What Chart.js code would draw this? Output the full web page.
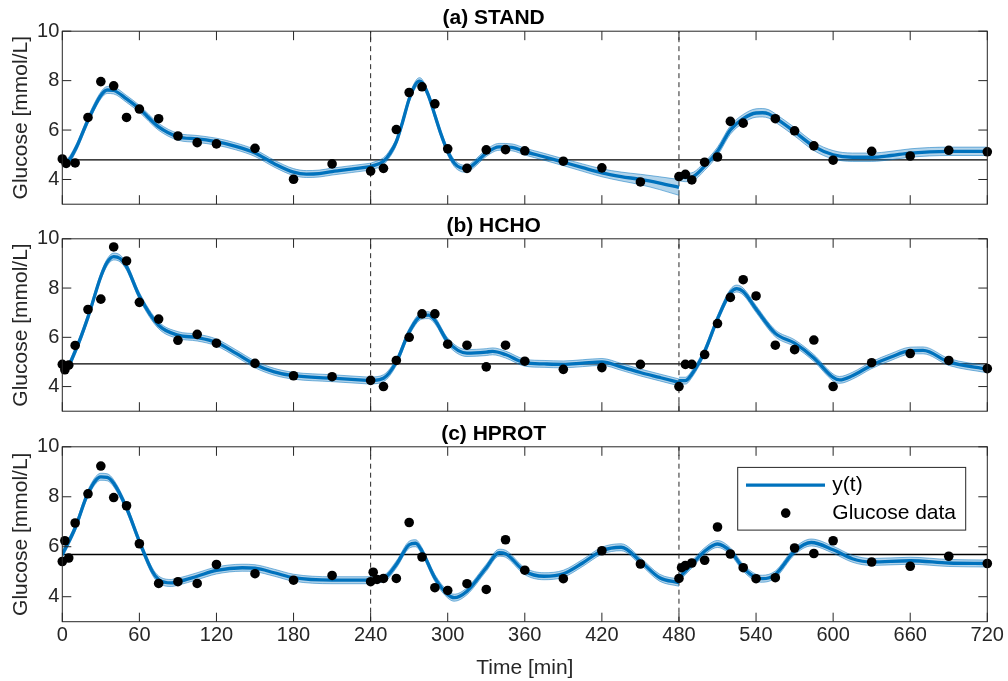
<!DOCTYPE html>
<html lang="en">
  <head>
    <title>Glucose fits</title>
    <meta charset="UTF-8" />
    <script src="https://cdn.jsdelivr.net/npm/chart.js"></script>
    <style>
      body { margin: 0; background: #fff; }
      #wrap { position: relative; width: 1008px; height: 681px; overflow: hidden; }
      canvas { position: absolute; left: 0; }
    </style>
  </head>
  <body>
    <div id="wrap">
      <canvas id="chartA" width="1008" height="209" style="top: 0px"></canvas>
      <canvas id="chartB" width="1008" height="207" style="top: 209px"></canvas>
      <canvas id="chartC" width="1008" height="265" style="top: 416px"></canvas>
    </div>

    <script>
      // axes
      const X_TICKS = [0, 60, 120, 180, 240, 300, 360, 420, 480, 540, 600, 660, 720];
      const Y_TICKS = [4, 6, 8, 10];
      const MEALS = [240, 480];

      // (a) STAND - measured glucose
      const tA = [0, 3, 10, 20, 30, 40, 50, 60, 75, 90, 105, 120, 150, 180, 210, 240, 250, 260, 270, 280, 290, 300, 315, 330, 345, 360, 390, 420, 450, 480, 485, 490, 500, 510, 520, 530, 555, 570, 585, 600, 630, 660, 690, 720];
      const gA = [4.83, 4.65, 4.67, 6.51, 7.96, 7.79, 6.51, 6.85, 6.46, 5.76, 5.49, 5.44, 5.26, 4.01, 4.63, 4.34, 4.45, 6.02, 7.52, 7.75, 7.06, 5.24, 4.45, 5.2, 5.21, 5.16, 4.74, 4.47, 3.9, 4.12, 4.21, 3.98, 4.7, 4.91, 6.35, 6.28, 6.46, 5.97, 5.36, 4.78, 5.14, 4.95, 5.18, 5.12];
      // (a) model fit y(t), a repeated time starts a new meal segment
      const fitTA = [0, 3, 10, 20, 30, 35, 40, 50, 60, 75, 90, 105, 120, 135, 150, 165, 180, 190, 200, 210, 225, 240,
        240, 250, 255, 260, 265, 270, 275, 278, 280, 285, 290, 295, 300, 305, 310, 315, 320, 330, 340, 350, 360, 375, 390, 405, 420, 435, 450, 465, 480,
        480, 485, 490, 500, 510, 520, 530, 540, 545, 550, 555, 570, 585, 600, 615, 630, 645, 660, 690, 720];
      const fitYA = [4.74, 4.7, 5.2, 6.4, 7.4, 7.62, 7.6, 7.26, 6.86, 6.13, 5.73, 5.64, 5.53, 5.34, 5.07, 4.64, 4.3, 4.22, 4.24, 4.32, 4.42, 4.52,
        4.52, 4.74, 5.05, 5.53, 6.35, 7.26, 7.85, 7.98, 7.92, 7.4, 6.6, 5.8, 5.13, 4.67, 4.47, 4.43, 4.6, 5.07, 5.32, 5.3, 5.13, 4.92, 4.7, 4.48, 4.27, 4.12, 4.0, 3.85, 3.68,
        4.12, 4.08, 4.1, 4.54, 5.14, 6.0, 6.46, 6.69, 6.7, 6.65, 6.49, 5.93, 5.34, 5.0, 4.9, 4.9, 4.97, 5.07, 5.14, 5.14];
      // half width of the shaded band
      const bandA = [0.14, 0.14, 0.14, 0.14, 0.14, 0.14, 0.14, 0.14, 0.14, 0.14, 0.14, 0.14, 0.14, 0.14, 0.14, 0.14, 0.14, 0.14, 0.14, 0.14, 0.14, 0.14,
        0.14, 0.14, 0.14, 0.14, 0.14, 0.14, 0.14, 0.14, 0.14, 0.14, 0.14, 0.14, 0.14, 0.14, 0.14, 0.14, 0.14, 0.14, 0.14, 0.14, 0.14, 0.14, 0.14, 0.15, 0.16, 0.18, 0.21, 0.26, 0.32,
        0.17, 0.17, 0.17, 0.17, 0.17, 0.17, 0.17, 0.17, 0.17, 0.17, 0.17, 0.17, 0.17, 0.17, 0.17, 0.17, 0.17, 0.17, 0.17, 0.17];
      const baseA = 4.79;

      // (b) HCHO
      const tB = [0, 2, 5, 10, 20, 30, 40, 50, 60, 75, 90, 105, 120, 150, 180, 210, 240, 250, 260, 270, 280, 290, 300, 315, 330, 345, 360, 390, 420, 450, 480, 485, 490, 500, 510, 520, 530, 540, 555, 570, 585, 600, 630, 660, 690, 720];
      const gB = [4.9, 4.68, 4.87, 5.67, 7.13, 7.55, 9.67, 9.1, 7.42, 6.74, 5.88, 6.12, 5.76, 4.94, 4.44, 4.4, 4.25, 4.0, 5.06, 6.0, 6.95, 6.95, 5.72, 5.68, 4.8, 5.68, 5.03, 4.7, 4.77, 4.9, 4.0, 4.9, 4.9, 5.3, 6.56, 7.62, 8.34, 7.68, 5.68, 5.5, 5.89, 4.0, 4.97, 5.34, 5.06, 4.73];
      const fitTB = [0, 3, 10, 20, 30, 35, 40, 45, 50, 60, 75, 90, 105, 120, 135, 150, 165, 180, 210, 240,
        240, 250, 260, 270, 280, 285, 290, 300, 315, 330, 335, 345, 360, 375, 390, 405, 420, 435, 450, 465, 480,
        480, 485, 490, 500, 510, 520, 525, 530, 540, 555, 570, 585, 600, 605, 615, 630, 645, 660, 670, 690, 720];
      const fitYB = [4.8, 4.78, 5.43, 6.82, 8.47, 9.05, 9.28, 9.2, 8.87, 7.68, 6.49, 6.09, 5.99, 5.79, 5.36, 4.9, 4.6, 4.44, 4.34, 4.24,
        4.24, 4.34, 5.0, 6.22, 6.88, 6.9, 6.69, 5.83, 5.36, 5.4, 5.43, 5.3, 4.97, 4.92, 4.9, 4.95, 5.0, 4.8, 4.57, 4.37, 4.17,
        4.24, 4.24, 4.5, 5.43, 6.75, 7.81, 7.98, 7.86, 7.15, 6.16, 5.76, 5.16, 4.37, 4.27, 4.44, 4.87, 5.2, 5.46, 5.47, 5.0, 4.7];
      const bandB = 0.14;
      const baseB = 4.92;

      // (c) HPROT
      const tC = [0, 2, 5, 10, 20, 30, 40, 50, 60, 75, 90, 105, 120, 150, 180, 210, 240, 242, 245, 250, 260, 270, 280, 290, 300, 315, 330, 345, 360, 390, 420, 450, 480, 482, 485, 490, 500, 510, 520, 530, 540, 555, 570, 585, 600, 630, 660, 690, 720];
      const gC = [5.41, 6.24, 5.55, 6.95, 8.12, 9.23, 7.97, 7.64, 6.12, 4.53, 4.6, 4.53, 5.29, 4.92, 4.66, 4.85, 4.6, 4.98, 4.69, 4.73, 4.73, 6.97, 5.59, 4.36, 4.25, 4.52, 4.29, 6.28, 5.06, 4.72, 5.84, 5.31, 4.73, 5.16, 5.25, 5.35, 5.46, 6.79, 5.71, 5.16, 4.72, 4.76, 5.95, 5.73, 6.24, 5.39, 5.22, 5.62, 5.33];
      const fitTC = [0, 10, 20, 30, 35, 40, 50, 60, 70, 75, 85, 90, 105, 120, 140, 150, 165, 180, 210, 240,
        240, 250, 260, 270, 275, 280, 290, 300, 305, 315, 330, 340, 345, 360, 375, 390, 405, 420, 435, 450, 465, 480,
        480, 485, 490, 500, 510, 520, 530, 540, 545, 555, 570, 583, 600, 615, 630, 660, 690, 720];
      const fitYC = [5.69, 6.75, 8.14, 8.8, 8.78, 8.54, 7.55, 6.21, 5.02, 4.69, 4.55, 4.6, 4.82, 5.05, 5.16, 5.14, 4.96, 4.76, 4.66, 4.66,
        4.69, 4.73, 5.29, 6.08, 6.14, 5.82, 4.75, 4.09, 3.96, 4.22, 5.16, 5.76, 5.72, 5.02, 4.82, 4.92, 5.35, 5.84, 5.98, 5.42, 4.76, 4.56,
        4.76, 5.02, 5.29, 5.82, 6.11, 5.82, 5.16, 4.76, 4.72, 4.89, 5.82, 6.17, 5.88, 5.52, 5.39, 5.44, 5.35, 5.33];
      const bandC = 0.14;
      const baseC = 5.69;

      const BLUE = '#0072BD';
      const AXIS = '#262626';
      const FONT = '"Liberation Sans", Arial, Helvetica, sans-serif';
      const TICK_LEN = 9;

      Chart.defaults.font.family = FONT;
      Chart.defaults.color = AXIS;

      // box round the plot with inward ticks on all four sides
      const boxTicks = {
        id: 'boxTicks',
        afterDatasetsDraw(chart) {
          const { ctx, chartArea: a } = chart;
          const x = chart.scales.x;
          const y = chart.scales.y;
          ctx.save();
          ctx.strokeStyle = AXIS;
          ctx.lineWidth = 1;
          ctx.strokeRect(a.left, a.top, a.right - a.left, a.bottom - a.top);
          ctx.beginPath();
          X_TICKS.forEach((v) => {
            const px = x.getPixelForValue(v);
            ctx.moveTo(px, a.bottom);
            ctx.lineTo(px, a.bottom - TICK_LEN);
            ctx.moveTo(px, a.top);
            ctx.lineTo(px, a.top + TICK_LEN);
          });
          Y_TICKS.forEach((v) => {
            const py = y.getPixelForValue(v);
            ctx.moveTo(a.left, py);
            ctx.lineTo(a.left + TICK_LEN, py);
            ctx.moveTo(a.right, py);
            ctx.lineTo(a.right - TICK_LEN, py);
          });
          ctx.stroke();
          ctx.restore();
        },
      };

      // legend box inside the last panel
      const legendBox = {
        id: 'legendBox',
        afterDraw(chart) {
          const { ctx, chartArea: a } = chart;
          const x0 = a.right - 249.6;
          const y0 = a.top + 20.6;
          ctx.save();
          ctx.fillStyle = '#fff';
          ctx.fillRect(x0, y0, 228, 62.7);
          ctx.strokeStyle = AXIS;
          ctx.lineWidth = 1;
          ctx.strokeRect(x0, y0, 228, 62.7);
          ctx.strokeStyle = BLUE;
          ctx.lineWidth = 3.3;
          ctx.beginPath();
          ctx.moveTo(x0 + 8.3, y0 + 17.7);
          ctx.lineTo(x0 + 87.3, y0 + 17.7);
          ctx.stroke();
          ctx.fillStyle = '#000';
          ctx.beginPath();
          ctx.arc(x0 + 48, y0 + 45.7, 4.8, 0, Math.PI * 2);
          ctx.fill();
          ctx.font = '21px ' + FONT;
          ctx.textAlign = 'left';
          ctx.textBaseline = 'middle';
          ctx.fillText('y(t)', x0 + 94.6, y0 + 17.7);
          ctx.fillText('Glucose data', x0 + 94.6, y0 + 45.7);
          ctx.restore();
        },
      };

      // split the fit where a time repeats (meal boundary)
      function segments(ts, ys, band) {
        const segs = [];
        let cur = [];
        ts.forEach((t, i) => {
          if (i > 0 && t === ts[i - 1]) {
            segs.push(cur);
            cur = [];
          }
          const w = Array.isArray(band) ? band[i] : band;
          cur.push({ x: t, y: ys[i], w: w });
        });
        segs.push(cur);
        return segs;
      }

      function makePanel(id, p) {
        const datasets = [];

        // meal markers and baseline
        MEALS.forEach((m) => {
          datasets.push({
            data: [{ x: m, y: 3 }, { x: m, y: 10 }],
            borderColor: AXIS,
            borderWidth: 1,
            borderDash: [5, 4],
            pointRadius: 0,
            order: 4,
          });
        });
        datasets.push({
          data: [{ x: 0, y: p.base }, { x: 720, y: p.base }],
          borderColor: '#000',
          borderWidth: 1.3,
          pointRadius: 0,
          order: 4,
        });

        segments(p.fitT, p.fitY, p.band).forEach((seg) => {
          datasets.push({
            data: seg.map((s) => ({ x: s.x, y: s.y + s.w })),
            borderColor: 'rgba(0, 114, 189, 0.5)',
            borderWidth: 1,
            pointRadius: 0,
            cubicInterpolationMode: 'monotone',
            fill: false,
            order: 3,
          });
          datasets.push({
            data: seg.map((s) => ({ x: s.x, y: s.y - s.w })),
            borderColor: 'rgba(0, 114, 189, 0.5)',
            backgroundColor: 'rgba(0, 114, 189, 0.3)',
            borderWidth: 1,
            pointRadius: 0,
            cubicInterpolationMode: 'monotone',
            fill: '-1',
            order: 3,
          });
          datasets.push({
            data: seg.map((s) => ({ x: s.x, y: s.y })),
            borderColor: BLUE,
            borderWidth: 3.3,
            pointRadius: 0,
            cubicInterpolationMode: 'monotone',
            fill: false,
            order: 1,
          });
        });

        // glucose measurements
        datasets.push({
          data: p.t.map((t, i) => ({ x: t, y: p.g[i] })),
          showLine: false,
          pointRadius: 4.8,
          pointBackgroundColor: '#000',
          pointBorderWidth: 0,
          clip: false,
          order: 0,
        });

        const plugins = [boxTicks];
        if (p.legend) plugins.push(legendBox);

        return new Chart(document.getElementById(id), {
          type: 'line',
          data: { datasets: datasets },
          plugins: plugins,
          options: {
            responsive: false,
            animation: false,
            events: [],
            layout: { padding: { left: 0, right: 20.7, top: 0, bottom: p.padBottom } },
            plugins: {
              legend: { display: false },
              tooltip: { enabled: false },
              title: {
                display: true,
                text: p.title,
                color: '#000',
                font: { size: 21, weight: 'bold' },
                padding: { top: p.titleTop, bottom: 0 },
              },
            },
            scales: {
              x: {
                type: 'linear',
                min: 0,
                max: 720,
                afterBuildTicks: (s) => {
                  s.ticks = X_TICKS.map((v) => ({ value: v }));
                },
                ticks: { display: p.xLabels, font: { size: 20 }, color: AXIS, padding: 2, maxRotation: 0, autoSkip: false },
                grid: { display: false, drawTicks: false },
                border: { display: false },
                title: {
                  display: p.xLabels,
                  text: 'Time [min]',
                  color: AXIS,
                  font: { size: 21 },
                  padding: { top: 0, bottom: 0 },
                },
                afterFit: (s) => {
                  s.height = p.xLabels ? 59.3 : 0;
                  s.paddingLeft = 0;
                  s.paddingRight = 0;
                },
              },
              y: {
                min: 3,
                max: 10,
                afterBuildTicks: (s) => {
                  s.ticks = Y_TICKS.map((v) => ({ value: v }));
                },
                ticks: { font: { size: 20 }, color: AXIS, padding: 3 },
                grid: { display: false, drawTicks: false },
                border: { display: false },
                title: {
                  display: true,
                  text: 'Glucose [mmol/L]',
                  color: AXIS,
                  font: { size: 21 },
                  padding: { top: 9, bottom: 0 },
                },
                afterFit: (s) => {
                  s.width = 62.3;
                  s.paddingTop = 0;
                  s.paddingBottom = 0;
                },
              },
            },
          },
        });
      }

      makePanel('chartA', {
        title: '(a) STAND', t: tA, g: gA, fitT: fitTA, fitY: fitYA, band: bandA, base: baseA,
        titleTop: 6, padBottom: 2.3, xLabels: false, legend: false,
      });
      makePanel('chartB', {
        title: '(b) HCHO', t: tB, g: gB, fitT: fitTB, fitY: fitYB, band: bandB, base: baseB,
        titleTop: 4.6, padBottom: 2, xLabels: false, legend: false,
      });
      makePanel('chartC', {
        title: '(c) HPROT', t: tC, g: gC, fitT: fitTC, fitY: fitYC, band: bandC, base: baseC,
        titleTop: 5.6, padBottom: 0, xLabels: true, legend: true,
      });
    </script>
  </body>
</html>
